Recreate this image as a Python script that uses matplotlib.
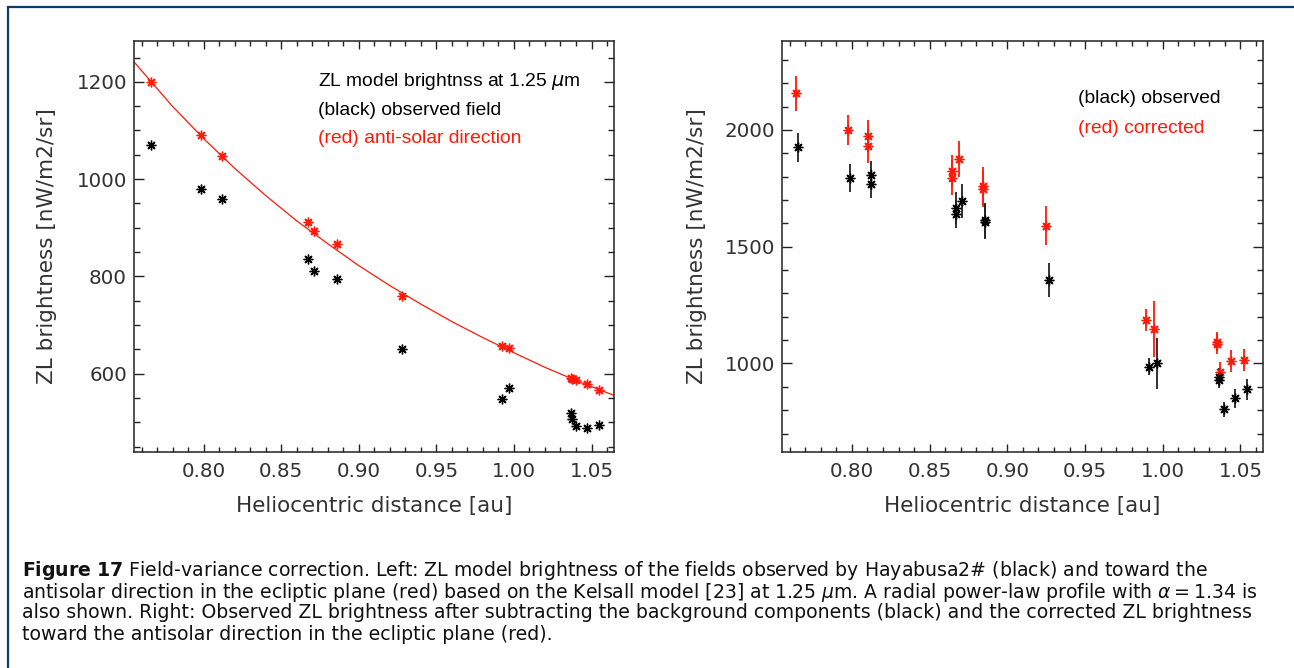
import numpy as np
import matplotlib
matplotlib.use("Agg")
import matplotlib.pyplot as plt
from matplotlib.patches import Rectangle
from matplotlib.ticker import MultipleLocator, FormatStrFormatter

# ---------------- data ----------------
# Left panel: ZL model brightness (Kelsall model, 1.25 um)
left_dist = [0.766, 0.798, 0.812, 0.867, 0.871, 0.886, 0.928, 0.992, 0.997,
             1.0365, 1.0375, 1.040, 1.047, 1.055]
left_antisolar = [1200, 1090, 1047, 911, 893, 866, 760, 657, 652,
                  592, 590, 588, 579, 566]
left_field = [1071, 980, 959, 835, 811, 795, 651, 547, 570,
              519, 506, 492, 488, 494]

# radial power-law profile (alpha = 1.34)
model_dist = [0.755, 0.78, 0.80, 0.82, 0.84, 0.86, 0.88, 0.90, 0.92, 0.94,
              0.96, 0.98, 1.00, 1.02, 1.04, 1.064]
model_bright = [1241, 1149, 1083, 1022, 966, 914, 867, 822, 781, 743,
                707, 674, 643, 613, 586, 556]

# Right panel: observed (black) and corrected (red)
red_dist = [0.7642, 0.7972, 0.8103, 0.8103, 0.8644, 0.8644, 0.8689, 0.8843, 0.8843,
            0.9247, 0.9893, 0.9945, 1.0347, 1.0347, 1.0370, 1.0439, 1.0520]
red_corr = [2157, 2000, 1974, 1933, 1824, 1796, 1874, 1761, 1748,
            1590, 1186, 1147, 1093, 1083, 964, 1010, 1014]
red_err = [74, 66, 69, 73, 70, 75, 77, 82, 78,
           83, 46, 121, 40, 43, 42, 47, 48]

blk_dist = [0.7655, 0.7987, 0.8120, 0.8120, 0.8667, 0.8667, 0.8708, 0.8856, 0.8856,
            0.9270, 0.9910, 0.9962, 1.0364, 1.0364, 1.0394, 1.0465, 1.0540]
blk_obs = [1926, 1793, 1808, 1769, 1667, 1640, 1696, 1613, 1607,
           1357, 986, 1000, 943, 928, 804, 851, 889]
blk_err = [63, 60, 61, 62, 69, 61, 72, 75, 76,
           72, 36, 108, 39, 35, 33, 40, 44]

x_ticks = [0.80, 0.85, 0.90, 0.95, 1.00, 1.05]

# ---------------- figure ----------------
W, H = 1294, 668
fig = plt.figure(figsize=(W / 100, H / 100), dpi=100)
fig.patch.set_facecolor("white")

RED = "#ff1a0a"
BLK = "#000000"
TICK_FONT = dict(family="DejaVu Sans", size=14.3, color="#333333")
LABEL_SIZE = 15.5
AST = (8, 2, 0)


def fbox(x0, y0, x1, y1):
    return [x0 / W, 1 - y1 / H, (x1 - x0) / W, (y1 - y0) / H]


def style_axes(ax, ymaj, ymin):
    ax.set_xlim(0.755, 1.0645)
    ax.xaxis.set_major_locator(MultipleLocator(0.05))
    ax.xaxis.set_minor_locator(MultipleLocator(0.01))
    ax.yaxis.set_major_locator(MultipleLocator(ymaj))
    ax.yaxis.set_minor_locator(MultipleLocator(ymin))
    ax.xaxis.set_major_formatter(FormatStrFormatter("%.2f"))
    ax.yaxis.set_major_formatter(FormatStrFormatter("%d"))
    ax.tick_params(which="both", direction="in", top=True, right=True,
                   width=1.0, color="#222222")
    ax.tick_params(axis="x", which="major", length=6, pad=7)
    ax.tick_params(axis="x", which="minor", length=3.5)
    ax.tick_params(axis="y", which="major", length=7.5, pad=5)
    ax.tick_params(axis="y", which="minor", length=4)
    for lab in ax.get_xticklabels() + ax.get_yticklabels():
        lab.set_fontfamily(TICK_FONT["family"])
        lab.set_fontsize(TICK_FONT["size"])
        lab.set_color(TICK_FONT["color"])
    for sp in ax.spines.values():
        sp.set_linewidth(1.1)
        sp.set_color("#222222")
    ax.set_xlabel("Heliocentric distance [au]", fontsize=LABEL_SIZE, color="#333333",
                  family="DejaVu Sans")
    ax.xaxis.set_label_coords(0.5, -0.107)
    ax.set_ylabel("ZL brightness [nW/m2/sr]", fontsize=LABEL_SIZE, color="#333333",
                  family="DejaVu Sans")


# ---- left panel ----
axL = fig.add_axes(fbox(134, 41, 614, 452))
axL.plot(model_dist, model_bright, color=RED, lw=0.9, zorder=2)
axL.plot(left_dist, left_antisolar, ls="none", marker=AST, ms=7, mew=1.0,
         color=RED, zorder=3)
axL.plot(left_dist, left_field, ls="none", marker=AST, ms=7, mew=1.0,
         color=BLK, zorder=3)
axL.set_ylim(439, 1284)
style_axes(axL, 200, 50)
axL.yaxis.set_label_coords((57 - 134) / 480, 0.5)
axL.set_xticks(x_ticks)

tk = dict(transform=axL.transAxes, family="Liberation Sans", fontsize=13.9,
          va="center", ha="left")
axL.text(0.383, 0.901, r"ZL model brightnss at 1.25 $\mu$m", color="black", **tk)
axL.text(0.383, 0.832, "(black) observed field", color="black", **tk)
axL.text(0.383, 0.762, "(red) anti-solar direction", color=RED, **tk)

# ---- right panel ----
axR = fig.add_axes(fbox(782, 41, 1263, 452))
axR.errorbar(red_dist, red_corr, yerr=red_err, fmt="none", ecolor=RED,
             elinewidth=1.3, capsize=0, zorder=2)
axR.plot(red_dist, red_corr, ls="none", marker=AST, ms=7, mew=1.0,
         color=RED, zorder=3)
axR.errorbar(blk_dist, blk_obs, yerr=blk_err, fmt="none", ecolor="#222222",
             elinewidth=1.3, capsize=0, zorder=2)
axR.plot(blk_dist, blk_obs, ls="none", marker=AST, ms=7, mew=1.0,
         color=BLK, zorder=3)
axR.set_ylim(621, 2381)
style_axes(axR, 500, 100)
axR.yaxis.set_label_coords((707 - 782) / 481, 0.5)
axR.set_xticks(x_ticks)

tk2 = dict(transform=axR.transAxes, family="Liberation Sans", fontsize=13.9,
           va="center", ha="left")
axR.text(0.615, 0.861, "(black) observed", color="black", **tk2)
axR.text(0.615, 0.788, "(red) corrected", color=RED, **tk2)

# ---- caption ----
cap_lines = [
    r"$\mathbf{Figure\ 17}$ Field-variance correction. Left: ZL model brightness of the fields observed by Hayabusa2# (black) and toward the",
    r"antisolar direction in the ecliptic plane (red) based on the Kelsall model [23] at 1.25 $\mu$m. A radial power-law profile with $\alpha = 1.34$ is",
    "also shown. Right: Observed ZL brightness after subtracting the background components (black) and the corrected ZL brightness",
    "toward the antisolar direction in the ecliptic plane (red).",
]
cap_y = [571, 592, 613, 634]
for line, yy in zip(cap_lines, cap_y):
    fig.text(22 / W, 1 - yy / H, line, fontsize=13.55, family="DejaVu Sans",
             va="center", ha="left", color="#111111")

# ---- frame ----
fig.patches.append(Rectangle((7.5 / W, -0.2), 1.2, 1.2 - 6.5 / H,
                             transform=fig.transFigure, fill=False,
                             edgecolor="#0b3c6d", linewidth=1.6, zorder=10))

fig.savefig("out.png", dpi=100, facecolor="white")
